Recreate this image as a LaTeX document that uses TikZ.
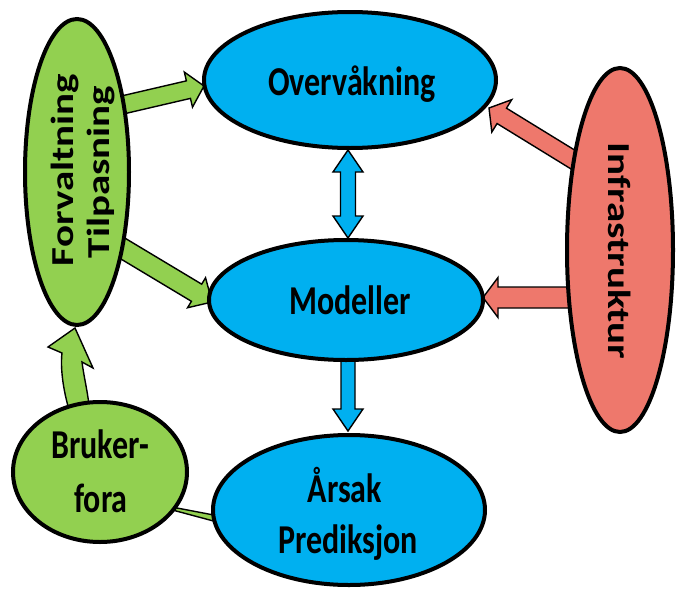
\documentclass[tikz,border=0pt]{standalone}
\usepackage{fontspec}
\setmainfont{Carlito}
\usetikzlibrary{shapes.geometric,calc}
\definecolor{cblue}{RGB}{0,176,240}
\definecolor{cgreen}{RGB}{146,208,80}
\definecolor{cred}{RGB}{238,120,108}
% block arrow: #1 style, #2 tail, #3 tip, #4 shaft half width, #5 head half width, #6 head length
\newcommand\blockarrow[6]{%
  \coordinate (bah) at ($(#3)!#6!(#2)$);
  \draw[#1] ($(#2)!#4!90:(#3)$) -- ($(bah)!#4!90:(#3)$) -- ($(bah)!#5!90:(#3)$) -- (#3)
    -- ($(bah)!#5!-90:(#3)$) -- ($(bah)!#4!-90:(#3)$) -- ($(#2)!#4!-90:(#3)$) -- cycle;
}
% double block arrow
\newcommand\dblarrow[6]{%
  \coordinate (bha) at ($(#2)!#6!(#3)$);
  \coordinate (bhb) at ($(#3)!#6!(#2)$);
  \draw[#1] (#2) -- ($(bha)!#5!90:(#3)$) -- ($(bha)!#4!90:(#3)$) -- ($(bhb)!#4!90:(#3)$)
    -- ($(bhb)!#5!90:(#3)$) -- (#3) -- ($(bhb)!#5!-90:(#3)$) -- ($(bhb)!#4!-90:(#3)$)
    -- ($(bha)!#4!-90:(#3)$) -- ($(bha)!#5!-90:(#3)$) -- cycle;
}
\begin{document}
\begin{tikzpicture}[x=1pt,y=-1pt,
  ell/.style={ellipse, draw=black, line width=4pt, inner sep=0pt},
  lbl/.style={font=\fontsize{41}{52}\selectfont\bfseries, xscale=0.78, inner sep=0pt, anchor=base},
  barr/.style={draw=black, line width=1.4pt, line join=miter},
  garr/.style={barr, fill=cgreen},
  rarr/.style={barr, fill=cred},
  carr/.style={barr, fill=cblue}]
\useasboundingbox (0,0) rectangle (680,589);

% connector end points
\coordinate (g1a) at (118,106);
\coordinate (g1b) at (204,86);
\coordinate (g2a) at (112,242);
\coordinate (g2b) at (212,302);
\coordinate (b1a) at (348,150);
\coordinate (b1b) at (348,238);
\coordinate (b2a) at (348,350);
\coordinate (b2b) at (348,431);
\coordinate (r1a) at (585,167);
\coordinate (r1b) at (489,108);
\coordinate (r2a) at (590,297.5);
\coordinate (r2b) at (483,297.5);

% connectors
\blockarrow{garr}{g1a}{g1b}{9pt}{18pt}{16pt}
\blockarrow{garr}{g2a}{g2b}{10pt}{17.5pt}{18pt}
\dblarrow{carr}{b1a}{b1b}{7.5pt}{15pt}{22pt}
\blockarrow{carr}{b2a}{b2b}{7pt}{15pt}{22pt}
\blockarrow{rarr}{r1a}{r1b}{9pt}{19pt}{15pt}
\blockarrow{rarr}{r2a}{r2b}{10.5pt}{20pt}{15pt}
% curved arrow from Bruker-fora up to Forvaltning
\draw[garr] (71,416) .. controls (64,395) and (60,370) .. (62,353) -- (48,347) -- (75,328)
  -- (93,368) -- (82,362) .. controls (84,378) and (88,392) .. (90,414) -- cycle;
% thin wedge between Bruker-fora and Årsak
\draw[garr] (165,505.7) -- (222,516.6) -- (222,523.3) -- (165,508) -- cycle;

% nodes
\node[ell, fill=cblue, minimum width=292pt, minimum height=136pt] (over) at (350,80) {};
\node[ell, fill=cblue, minimum width=274pt, minimum height=120pt] (mod) at (346,300) {};
\node[ell, fill=cblue, minimum width=272pt, minimum height=150pt] (ars) at (349,510) {};
\node[ell, fill=cgreen, minimum width=104pt, minimum height=306pt] (forv) at (77,172) {};
\node[ell, fill=cgreen, minimum width=174pt, minimum height=140pt] (bruk) at (100,472) {};
\node[ell, fill=cred, minimum width=106pt, minimum height=364pt] (infra) at (620,250) {};

% labels
\node[lbl] (overt) at (352,95) {Overvåkning};
\node[lbl] (modt) at (350,314) {Modeller};
\node[lbl] (arst1) at (345,502) {Årsak};
\node[lbl] (arst2) at (348,553) {Prediksjon};
\node[lbl] (brukt1) at (100,458) {Bruker-};
\node[lbl] (brukt2) at (101,512) {fora};
\node[lbl, rotate=90] (forvt1) at (73,170) {Forvaltning};
\node[lbl, rotate=90] (forvt2) at (109,172) {Tilpasning};
\node[lbl, rotate=-90] (infrat) at (608,251) {Infrastruktur};
\end{tikzpicture}
\end{document}
